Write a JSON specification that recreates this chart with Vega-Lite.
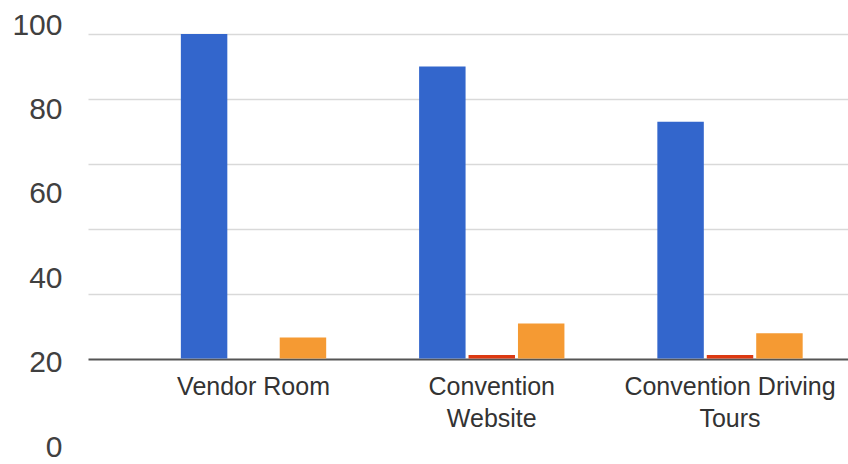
{
  "$schema": "https://vega.github.io/schema/vega-lite/v6.json",
  "autosize": "none",
  "width": 760,
  "height": 422,
  "padding": {"left": 88, "top": 25, "right": 0, "bottom": 17},
  "background": "white",
  "config": {"view": {"stroke": null}, "font": "Liberation Sans"},
  "data": {
    "values": [
      {"category": "Vendor Room", "series": "Series 1", "value": 100},
      {"category": "Vendor Room", "series": "Series 2", "value": 0},
      {"category": "Vendor Room", "series": "Series 3", "value": 6.5},
      {"category": "Convention Website", "series": "Series 1", "value": 90},
      {"category": "Convention Website", "series": "Series 2", "value": 1.1},
      {"category": "Convention Website", "series": "Series 3", "value": 10.8},
      {"category": "Convention Driving Tours", "series": "Series 1", "value": 73},
      {"category": "Convention Driving Tours", "series": "Series 2", "value": 1.1},
      {"category": "Convention Driving Tours", "series": "Series 3", "value": 7.8}
    ]
  },
  "layer": [
    {
      "mark": {"type": "point", "opacity": 0},
      "encoding": {
        "y": {
          "field": "value",
          "type": "quantitative",
          "scale": {"domain": [0, 100], "nice": false},
          "axis": {
            "orient": "left",
            "values": [0, 20, 40, 60, 80, 100],
            "grid": false,
            "ticks": false,
            "domain": false,
            "labelFontSize": 30,
            "labelColor": "#404040",
            "labelPadding": 26,
            "labelFont": "Liberation Sans",
            "title": null
          }
        }
      }
    },
    {
      "mark": {"type": "bar"},
      "encoding": {
        "x": {
          "field": "category",
          "type": "nominal",
          "sort": ["Vendor Room", "Convention Website", "Convention Driving Tours"],
          "scale": {"paddingInner": 0.39, "paddingOuter": 0.29, "align": 0.672},
          "axis": {
            "orient": "bottom",
            "offset": -88.5,
            "title": null,
            "ticks": false,
            "domain": false,
            "labelAngle": 0,
            "labelFontSize": 25,
            "labelColor": "#333333",
            "labelFont": "Liberation Sans",
            "labelPadding": 16,
            "labelLineHeight": 32,
            "labelLimit": 0,
            "labelExpr": "length(datum.label) > 12 ? [slice(datum.label, 0, lastindexof(datum.label, ' ')), slice(datum.label, lastindexof(datum.label, ' ') + 1)] : datum.label"
          }
        },
        "xOffset": {
          "field": "series",
          "type": "nominal",
          "scale": {"paddingInner": 0.06, "paddingOuter": 0}
        },
        "y": {
          "field": "value",
          "type": "quantitative",
          "stack": null,
          "scale": {"domain": [-27.27, 102.78], "nice": false, "zero": false},
          "axis": {
            "orient": "right",
            "values": [0, 20, 40, 60, 80, 100],
            "labels": false,
            "ticks": false,
            "domain": false,
            "grid": true,
            "gridColor": {"condition": {"test": "datum.value === 0", "value": "#555555"}, "value": "#d9d9d9"},
            "gridWidth": {"condition": {"test": "datum.value === 0", "value": 2}, "value": 1.5},
            "title": null
          }
        },
        "color": {
          "field": "series",
          "type": "nominal",
          "scale": {"domain": ["Series 1", "Series 2", "Series 3"], "range": ["#3366cc", "#dc3912", "#f59a33"]},
          "legend": null
        }
      }
    }
  ],
  "resolve": {"scale": {"y": "independent"}, "axis": {"y": "independent"}}
}
